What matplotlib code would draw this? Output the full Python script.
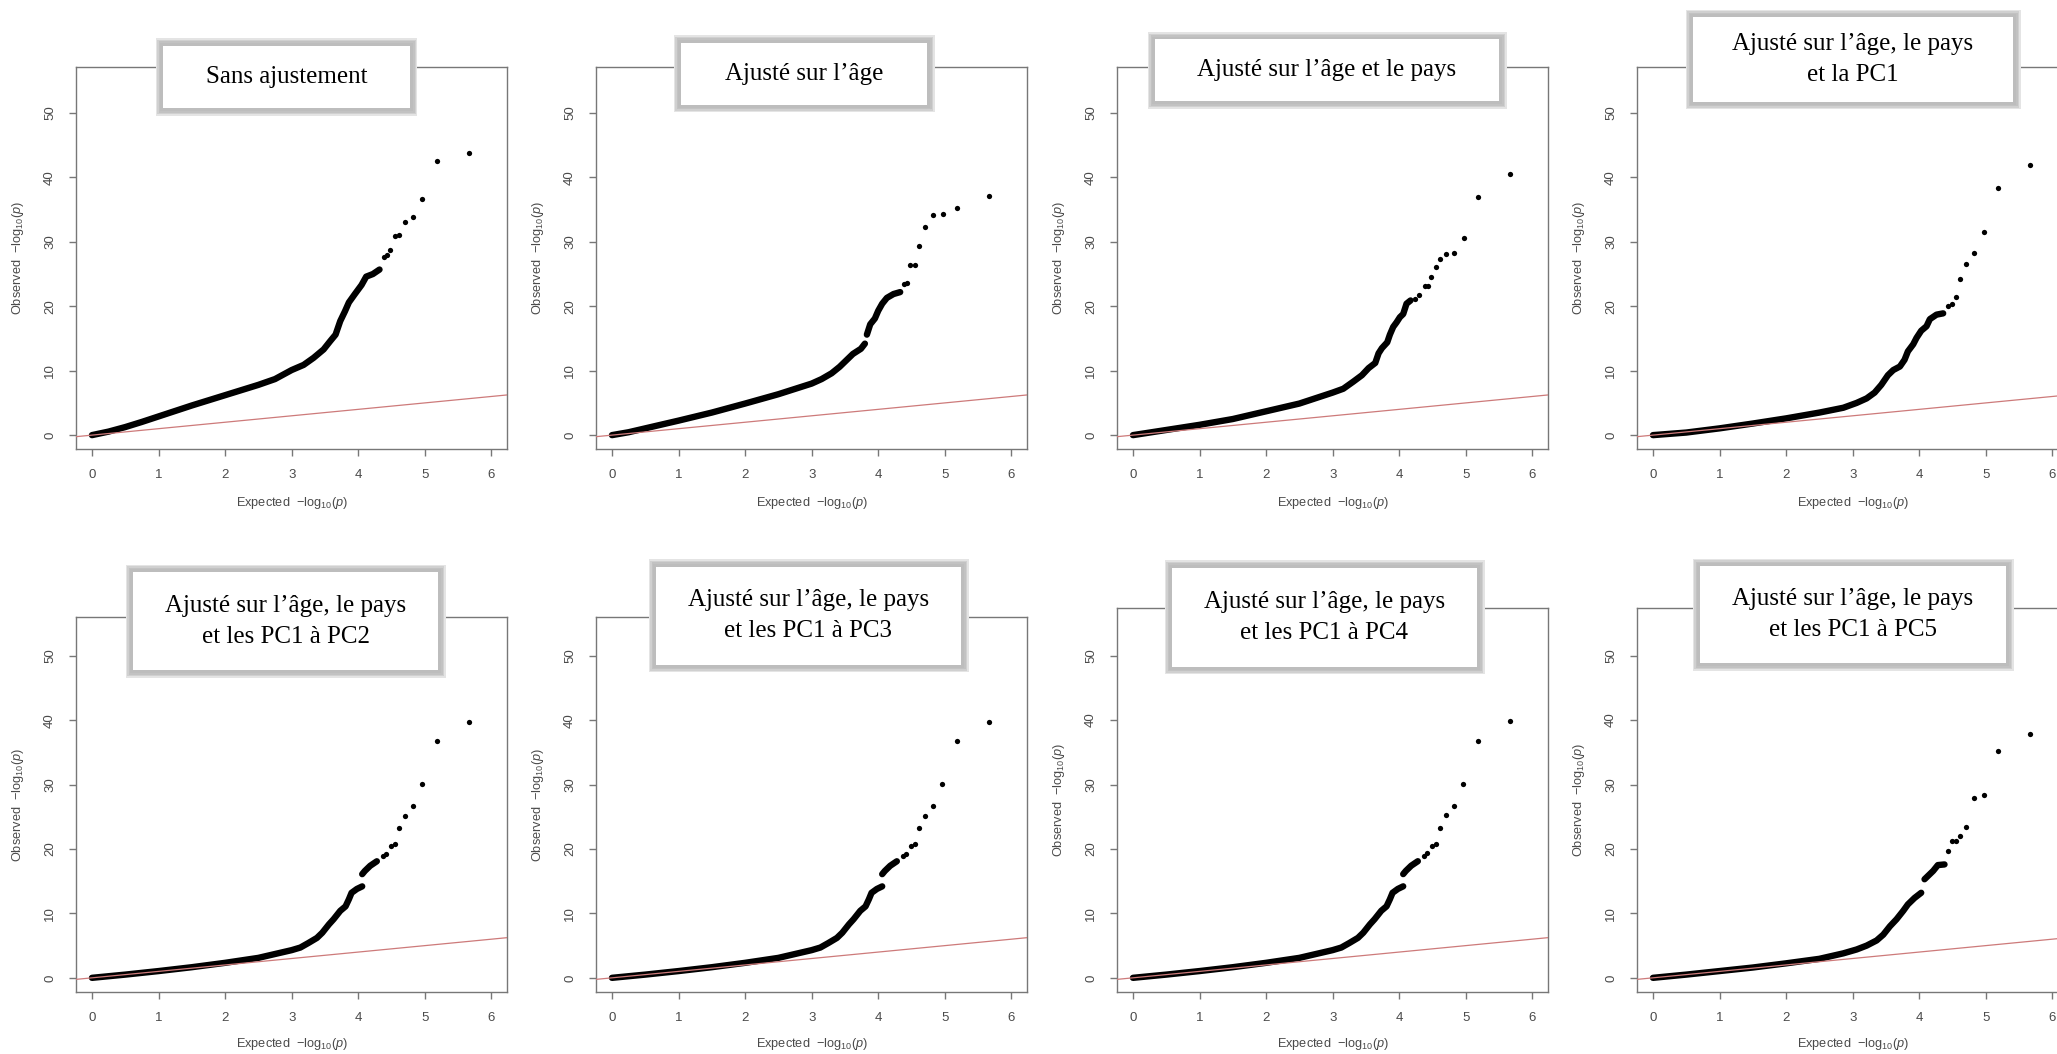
import matplotlib
matplotlib.use("Agg")
import matplotlib.pyplot as plt
from matplotlib.patches import Rectangle
import numpy as np

plt.rcParams["font.family"] = ["Liberation Sans", "DejaVu Sans"]
plt.rcParams["mathtext.fontset"] = "custom"
plt.rcParams["mathtext.rm"] = "Liberation Sans"
plt.rcParams["mathtext.it"] = "Liberation Sans:italic"

# ----------------------------------------------------------------------
# Data (expected vs observed -log10 p)
# band = continuous stretch of points, tail = isolated top hits
# NaN marks a visible gap in the band
# ----------------------------------------------------------------------
nan = np.nan

titles = [
    "Sans ajustement",
    "Ajusté sur l’âge",
    "Ajusté sur l’âge et le pays",
    "Ajusté sur l’âge, le pays\net la PC1",
    "Ajusté sur l’âge, le pays\net les PC1 à PC2",
    "Ajusté sur l’âge, le pays\net les PC1 à PC3",
    "Ajusté sur l’âge, le pays\net les PC1 à PC4",
    "Ajusté sur l’âge, le pays\net les PC1 à PC5",
]

p1_band_x = [0, 0.25, 0.5, 0.75, 1.0, 1.5, 2.0, 2.5, 2.75, 3.0, 3.18, 3.33, 3.48,
             3.58, 3.66, 3.73, 3.8, 3.86, 3.95, 4.05, 4.12, 4.22, 4.32]
p1_band_y = [0, 0.55, 1.25, 2.05, 2.9, 4.6, 6.2, 7.8, 8.7, 10.1, 10.9, 12.0, 13.3,
             14.6, 15.6, 17.7, 19.2, 20.6, 21.9, 23.3, 24.6, 25.0, 25.7]
p1_tail_x = [5.66, 5.18, 4.96, 4.82, 4.71, 4.62, 4.55, 4.48, 4.43, 4.38]
p1_tail_y = [43.8, 42.6, 36.7, 33.9, 33.05, 31.1, 30.95, 28.75, 28.0, 27.6]

p2_band_x = [0, 0.25, 0.5, 1.0, 1.5, 2.0, 2.5, 3.0, 3.15, 3.3, 3.42, 3.52, 3.62,
             3.74, 3.8, nan, 3.83, 3.88, 3.95, 4.0, 4.06, 4.13, 4.23, 4.33]
p2_band_y = [0, 0.45, 1.05, 2.25, 3.5, 4.9, 6.35, 8.0, 8.7, 9.6, 10.6, 11.6, 12.6,
             13.4, 14.2, nan, 15.6, 17.2, 18.1, 19.3, 20.4, 21.3, 21.9, 22.2]
p2_tail_x = [5.67, 5.18, 4.97, 4.82, 4.71, 4.62, 4.55, 4.48, 4.43, 4.38]
p2_tail_y = [37.1, 35.3, 34.3, 34.1, 32.3, 29.4, 26.4, 26.4, 23.6, 23.4]

p3_band_x = [0, 0.5, 1.0, 1.5, 2.0, 2.5, 3.0, 3.16, 3.31, 3.44, 3.54, 3.64, 3.69,
             3.74, 3.82, 3.86, 3.91, 3.96, 4.01, 4.06, 4.11, 4.17]
p3_band_y = [0, 0.8, 1.6, 2.5, 3.7, 4.9, 6.6, 7.2, 8.3, 9.3, 10.4, 11.2, 12.7,
             13.5, 14.4, 15.6, 16.8, 17.5, 18.3, 18.8, 20.4, 20.9]
p3_tail_x = [5.67, 5.19, 4.97, 4.82, 4.71, 4.62, 4.55, 4.48, 4.43, 4.38, 4.30, 4.24]
p3_tail_y = [40.5, 36.9, 30.6, 28.3, 28.1, 27.3, 26.1, 24.6, 23.2, 23.1, 21.7, 21.1]

p4_band_x = [0, 0.5, 1.0, 1.5, 2.0, 2.5, 2.86, 3.06, 3.21, 3.33, 3.43, 3.53, 3.61,
             3.71, 3.78, 3.83, 3.91, 3.96, 4.03, 4.11, 4.16, 4.26, 4.36]
p4_band_y = [0, 0.4, 1.05, 1.8, 2.6, 3.5, 4.25, 5.0, 5.7, 6.6, 7.8, 9.3, 10.1,
             10.65, 11.7, 13.0, 14.1, 15.1, 16.2, 16.9, 18.0, 18.7, 18.9]
p4_tail_x = [5.67, 5.19, 4.97, 4.82, 4.71, 4.62, 4.55, 4.49, 4.43]
p4_tail_y = [42.0, 38.35, 31.5, 28.2, 26.5, 24.3, 21.5, 20.4, 20.0]

# PC1-PC2, PC1-PC3 and PC1-PC4 look identical in the source
pc_band_x = [0, 0.5, 1.0, 1.5, 2.0, 2.5, 3.0, 3.13, 3.25, 3.38, 3.46, 3.56, 3.63,
             3.73, 3.81, 3.86, 3.9, 3.98, 4.06, nan, 4.06, 4.1, 4.18, 4.28]
pc_band_y = [0, 0.5, 1.05, 1.65, 2.33, 3.1, 4.3, 4.7, 5.4, 6.2, 7.0, 8.3, 9.1,
             10.4, 11.1, 12.2, 13.2, 13.8, 14.2, nan, 16.1, 16.6, 17.4, 18.1]
pc_tail_x = [5.66, 5.18, 4.96, 4.82, 4.71, 4.62, 4.55, 4.49, 4.42, 4.37]
pc_tail_y = [39.8, 36.7, 30.05, 26.7, 25.2, 23.2, 20.8, 20.5, 19.3, 18.9]

p8_band_x = [0, 0.5, 1.0, 1.5, 2.0, 2.5, 2.86, 3.06, 3.21, 3.36, 3.46, 3.56, 3.66,
             3.76, 3.83, 3.93, 4.03, nan, 4.08, 4.16, 4.21, 4.28, 4.38]
p8_band_y = [0, 0.5, 1.05, 1.6, 2.25, 2.95, 3.8, 4.4, 5.0, 5.8, 6.7, 8.0, 9.1,
             10.4, 11.4, 12.4, 13.2, nan, 15.3, 16.1, 16.6, 17.5, 17.6]
p8_tail_x = [5.67, 5.19, 4.97, 4.82, 4.71, 4.62, 4.55, 4.49, 4.43]
p8_tail_y = [37.9, 35.2, 28.4, 27.9, 23.4, 22.0, 21.3, 21.2, 19.7]

bands = [(p1_band_x, p1_band_y), (p2_band_x, p2_band_y), (p3_band_x, p3_band_y),
         (p4_band_x, p4_band_y), (pc_band_x, pc_band_y), (pc_band_x, pc_band_y),
         (pc_band_x, pc_band_y), (p8_band_x, p8_band_y)]
tails = [(p1_tail_x, p1_tail_y), (p2_tail_x, p2_tail_y), (p3_tail_x, p3_tail_y),
         (p4_tail_x, p4_tail_y), (pc_tail_x, pc_tail_y), (pc_tail_x, pc_tail_y),
         (pc_tail_x, pc_tail_y), (p8_tail_x, p8_tail_y)]

# ----------------------------------------------------------------------
# Layout (pixels of the 2057x1054 canvas)
# ----------------------------------------------------------------------
W, H = 2057, 1054
AX_W = 431.3
col_left = [76, 596, 1117, 1637]
# (top, bottom, ylim_bottom, ylim_top, xlabel offset) per panel
rows = [(66.6, 449.3, -2.2, 57.2, 54)] * 4 + [
    (617.2, 992, -2.2, 56.0, 52), (617.2, 992, -2.2, 56.0, 52),
    (607.7, 992, -2.2, 57.45, 52), (607.7, 992, -2.2, 57.45, 52)]
# title boxes (x0, x1, y0, y1): inner white area
boxes = [(163, 410, 45.6, 108.4), (681, 927, 42.9, 104.7), (1155, 1499, 39.5, 101.4),
         (1693, 2013, 17.3, 101.7), (133, 438, 572.3, 670.2), (656, 961, 566.5, 664.5),
         (1172, 1477, 567.8, 666.9), (1700, 2006, 566, 663)]

AXIS_GREY = "#777777"
TEXT_GREY = "#4a4a4a"
RED = "#cd7a7a"

fig = plt.figure(figsize=(W / 100, H / 100), dpi=100)
fig.patch.set_facecolor("white")


def frac_rect(x0, x1, y0, y1):
    return (x0 / W, 1 - y1 / H, (x1 - x0) / W, (y1 - y0) / H)


def add_rect(x0, x1, y0, y1, color, z):
    l, b, w, h = frac_rect(x0, x1, y0, y1)
    fig.add_artist(Rectangle((l, b), w, h, transform=fig.transFigure,
                             facecolor=color, edgecolor="none", zorder=z))


for i in range(8):
    left = col_left[i % 4]
    top, bottom, ylow, ytop, xlab_off = rows[i]
    ax = fig.add_axes(frac_rect(left, left + AX_W, top, bottom))
    ax.set_xlim(-0.24, 6.24)
    ax.set_ylim(ylow, ytop)

    bx, by = bands[i]
    ax.plot(bx, by, color="black", lw=4.6, solid_capstyle="round",
            solid_joinstyle="round", zorder=2)
    tx, ty = tails[i]
    ax.plot(tx, ty, "o", color="black", ms=3.8, mew=0, zorder=2)
    ax.axline((0, 0), slope=1, color=RED, lw=0.9, zorder=3)

    ax.set_xticks(range(7))
    ax.set_yticks(range(0, 51, 10))
    for s in ax.spines.values():
        s.set_color(AXIS_GREY)
        s.set_linewidth(1.0)
    ax.tick_params(direction="out", length=5.3, width=1.0, color=AXIS_GREY,
                   labelcolor=TEXT_GREY, labelsize=9.5, pad=9)
    for lab in ax.get_yticklabels():
        lab.set_rotation(90)
        lab.set_verticalalignment("center")

    h_px = bottom - top
    ax.set_xlabel(r"Expected  $-\mathrm{log}_{10}(\mathit{p})$",
                  fontsize=9.2, color=TEXT_GREY)
    ax.xaxis.set_label_coords(0.5, -xlab_off / h_px)
    ax.xaxis.label.set_verticalalignment("center")
    ax.set_ylabel(r"Observed  $-\mathrm{log}_{10}(\mathit{p})$",
                  fontsize=9.2, color=TEXT_GREY)
    ax.yaxis.set_label_coords(-57.7 / AX_W, 0.5)
    ax.yaxis.label.set_verticalalignment("center")

    # title box with a soft grey frame
    x0, x1, y0, y1 = boxes[i]
    for pad, col in [(7.5, "#e4e4e4"), (6, "#d0d0d0"), (4.5, "#c2c2c2"), (3, "#bdbdbd")]:
        add_rect(x0 - pad, x1 + pad, y0 - pad, y1 + pad, col, 5)
    add_rect(x0, x1, y0, y1, "white", 6)
    fig.text((x0 + x1) / 2 / W, 1 - (y0 + y1) / 2 / H, titles[i],
             ha="center", va="center", fontsize=18, linespacing=1.55,
             family="Liberation Serif", color="black", zorder=7)

fig.savefig("out.png", dpi=100, facecolor="white")
